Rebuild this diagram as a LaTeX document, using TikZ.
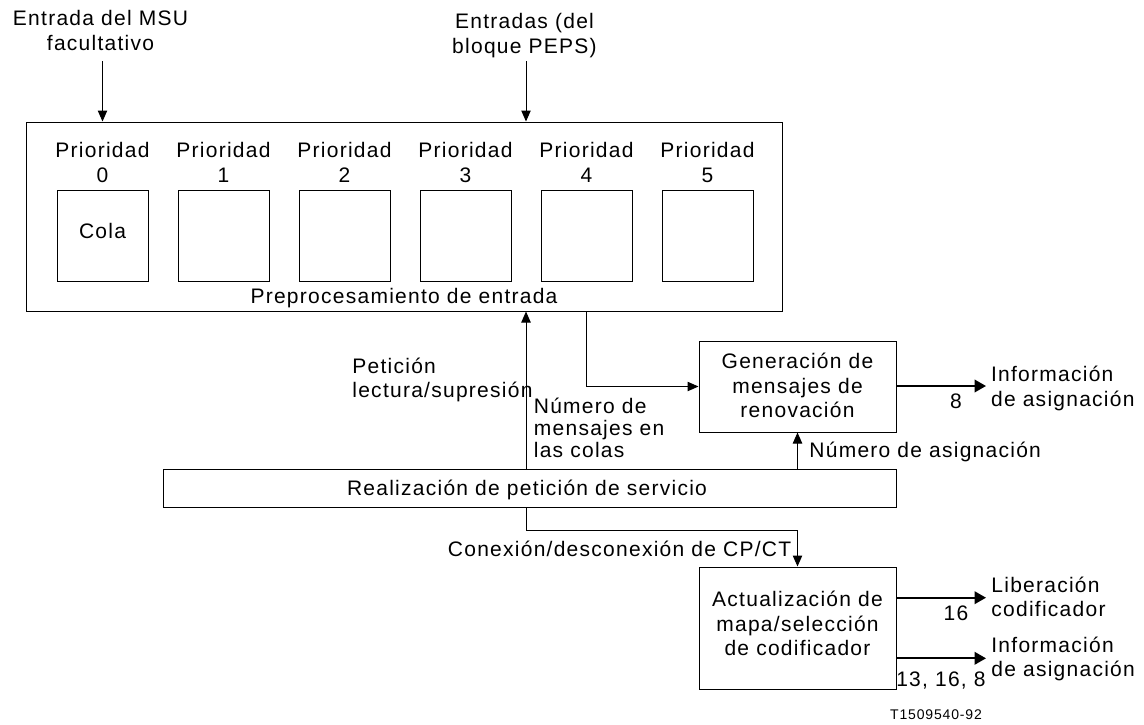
\documentclass[tikz,border=0pt]{standalone}
\usepackage{fontspec}
\setmainfont{Liberation Sans}[LetterSpace=6]
\usetikzlibrary{arrows.meta}
\begin{document}
\begin{tikzpicture}[x=0.5pt,y=-0.5pt,
  font=\fontsize{10.5}{12.25}\selectfont,
  box/.style={draw, inner sep=0pt, line width=0.5pt},
  txt/.style={inner sep=0pt, align=center, anchor=base},
  lefttxt/.style={inner sep=0pt, align=left, anchor=base west},
  flow/.style={-{Triangle[length=5.5pt,width=4.7pt]}, line width=0.5pt},
  outflow/.style={-{Triangle[length=5.75pt,width=6.3pt]}, line width=1pt}]
\useasboundingbox (0,0) rectangle (1144,724);
% input preprocessing with the six priority queues
\node[box, minimum width=378pt, minimum height=94.5pt] (pre) at (404,216.5) {};
\foreach \i in {0,...,5} {
  \node[box, minimum width=45.5pt, minimum height=45.5pt] (q\i) at ({102.5+121*\i},235.5) {};
  \node[txt] (p\i) at ({102.5+121*\i},182) {Prioridad\\\i};
}
\node[txt] (cola) at (102.5,238.3) {Cola};
\node[txt] (prelbl) at (404,303) {Preprocesamiento de entrada};
% other blocks
\node[box, minimum width=98.5pt, minimum height=45.5pt] (gen) at (797.5,386.5) {};
\node[txt] (genlbl) at (797.5,417.7) {Generación de\\mensajes de\\renovación};
\node[box, minimum width=366.5pt, minimum height=19pt] (rps) at (529.5,488) {};
\node[txt] (rpslbl) at (527,495) {Realización de petición de servicio};
\node[box, minimum width=98.5pt, minimum height=61pt] (act) at (797.5,628) {};
\node[txt] (actlbl) at (797.5,655.7) {Actualización de\\mapa/selección\\de codificador};
% inputs
\coordinate (in1) at (102.5,61);
\coordinate (in2) at (526,61);
\node[txt] (in1lbl) at (100.5,50) {Entrada del MSU\\facultativo};
\node[txt] (in2lbl) at (524.5,53) {Entradas (del\\bloque PEPS)};
\draw[flow] (in1) -- (in1 |- pre.north);
\draw[flow] (in2) -- (in2 |- pre.north);
% connections
\draw[flow] (in2 |- rps.north) -- (in2 |- pre.south);
\draw[flow] (q4 |- pre.south) |- (gen.west);
\draw[flow] (gen.south |- rps.north) -- (gen.south);
\draw[flow] (in2 |- rps.south) -- ++(0,23) -| (act.north);
\node[lefttxt] (pet) at (352,397.7) {Petición\\lectura/supresión};
\node[lefttxt, font=\fontsize{10.5}{11}\selectfont] (num) at (533.5,457) {Número de\\mensajes en\\las colas};
\node[lefttxt] (numasig) at (809,457) {Número de asignación};
\node[inner sep=0pt, anchor=base east] (con) at (791.6,556.7) {Conexión/desconexión de CP/CT};
% outputs
\coordinate (out1) at (986,386);
\coordinate (out2) at (986,597.7);
\coordinate (out3) at (986,658.3);
\draw[outflow] (gen.east |- out1) -- (out1);
\draw[outflow] (act.east |- out2) -- (out2);
\draw[outflow] (act.east |- out3) -- (out3);
\node[txt] (n8) at (956,408) {8};
\node[txt] (n16) at (956,620) {16};
\node[inner sep=0pt, anchor=base east] (n13) at (986,686.7) {13, 16, 8};
\node[lefttxt] (info1) at (990.7,406) {Información\\de asignación};
\node[lefttxt] (lib) at (991,616.7) {Liberación\\codificador};
\node[lefttxt] (info2) at (991,676.7) {Información\\de asignación};
\node[txt, font=\fontsize{7}{8}\selectfont] (ref) at (936,719) {T1509540-92};
\end{tikzpicture}
\end{document}
